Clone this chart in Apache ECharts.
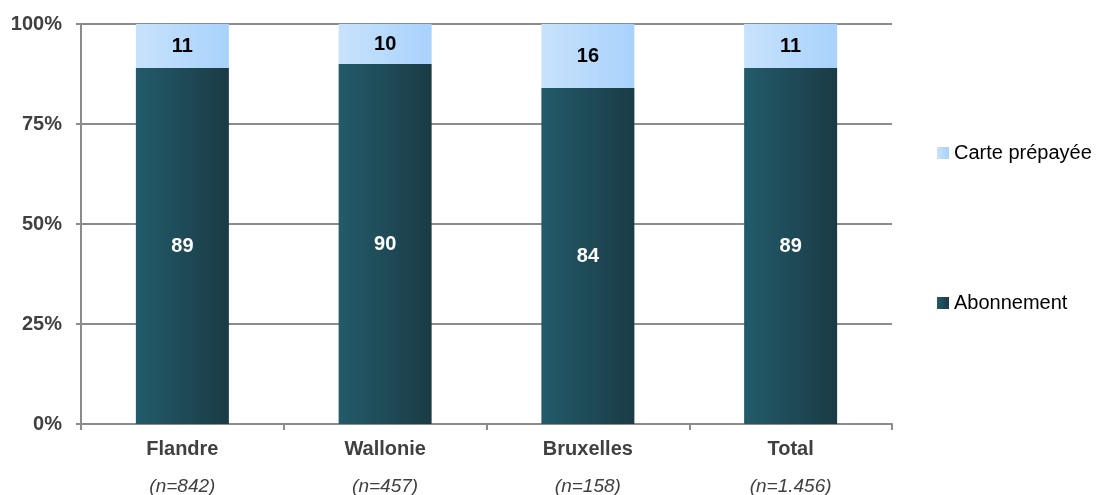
<!DOCTYPE html>
<html><head><meta charset="utf-8">
<script src="https://cdn.jsdelivr.net/npm/echarts@6/dist/echarts.min.js"></script>
<style>html,body{margin:0;padding:0;background:#fff}#c{width:1099px;height:495px}</style>
</head><body><div id="c"></div>
<script>
const categories = ['Flandre','Wallonie','Bruxelles','Total'];
const sampleSizes = ['(n=842)','(n=457)','(n=158)','(n=1.456)'];
const abonnement = [89, 90, 84, 89];
const cartePrepayee = [11, 10, 16, 11];
const yTicks = [0, 25, 50, 75, 100];

const FF = 'Liberation Sans, Arial, sans-serif';
const darkGrad = new echarts.graphic.LinearGradient(0,0,1,0,[{offset:0,color:'#235b6a'},{offset:1,color:'#1a3b45'}]);
const lightGrad = new echarts.graphic.LinearGradient(0,0,1,0,[{offset:0,color:'#c8e2fb'},{offset:1,color:'#a8d2fc'}]);

const chart = echarts.init(document.getElementById('c'));
chart.setOption({
  animation:false,
  textStyle:{fontFamily:FF},
  grid:{left:81,right:207,top:24,bottom:71,containLabel:false,outerBoundsMode:'none'},
  legend:[
    {data:['Carte prépayée'],left:932,top:138,orient:'vertical',icon:'rect',itemWidth:12,itemHeight:12,
     textStyle:{fontSize:20,color:'#000',fontFamily:FF}},
    {data:['Abonnement'],left:932,top:288,orient:'vertical',icon:'rect',itemWidth:12,itemHeight:12,
     textStyle:{fontSize:20,color:'#000',fontFamily:FF}}
  ],
  xAxis:{type:'category',data:categories,
    axisLine:{lineStyle:{color:'#8c8c8c',width:2}},
    axisTick:{show:true,length:6,lineStyle:{color:'#8c8c8c',width:2}},
    axisLabel:{margin:6,formatter:(v,i)=>'{a|'+v+'}\n{b|'+sampleSizes[i]+'}',
      rich:{a:{fontSize:20,fontWeight:'bold',color:'#404040',lineHeight:38,fontFamily:FF},
            b:{fontSize:19,fontStyle:'italic',color:'#404040',lineHeight:38,fontFamily:FF}}}
  },
  yAxis:{type:'value',min:0,max:100,interval:25,
    axisLine:{show:true,lineStyle:{color:'#8c8c8c',width:2}},
    axisTick:{show:true,length:5,lineStyle:{color:'#8c8c8c',width:2}},
    splitLine:{show:true,lineStyle:{color:'#8c8c8c',width:2}},
    axisLabel:{margin:19,formatter:v=>yTicks.includes(v)?v+'%':'',fontSize:20,fontWeight:'bold',color:'#404040'}
  },
  series:[
    {name:'Abonnement',type:'bar',stack:'s',data:abonnement,barWidth:93,
     itemStyle:{color:darkGrad},
     label:{show:true,position:'inside',color:'#fff',fontSize:20,fontWeight:'bold'}},
    {name:'Carte prépayée',type:'bar',stack:'s',data:cartePrepayee,barWidth:93,
     itemStyle:{color:lightGrad},
     label:{show:true,position:'inside',color:'#000',fontSize:20,fontWeight:'bold'}}
  ]
});
</script></body></html>
